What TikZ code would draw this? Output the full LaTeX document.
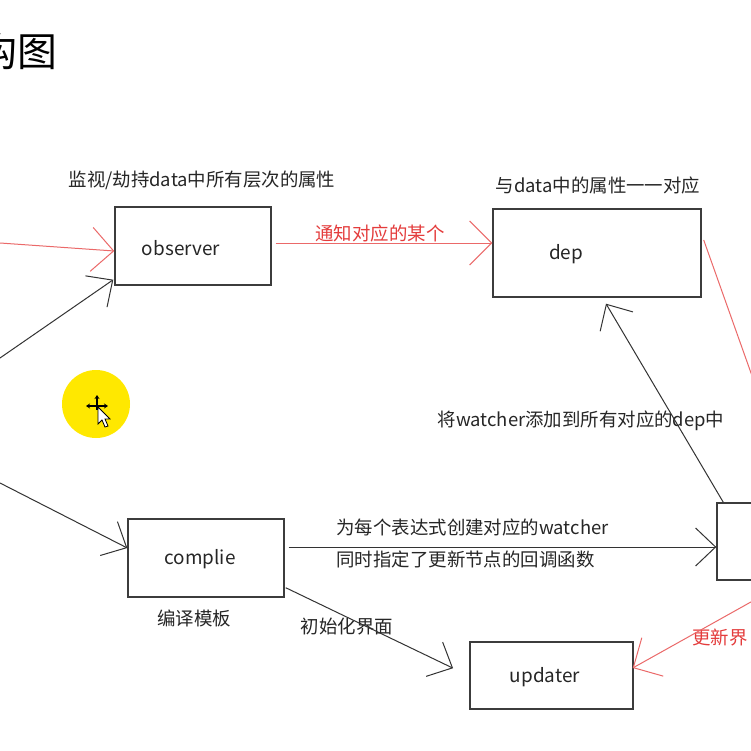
\documentclass[tikz,border=0pt]{standalone}
\usepackage{fontspec}
\setmainfont{Noto Sans CJK SC}
\usetikzlibrary{arrows.meta,calc}
\definecolor{boxgray}{RGB}{60,60,60}
\definecolor{linered}{RGB}{235,105,105}
\definecolor{textred}{RGB}{228,60,60}
\definecolor{hiyellow}{RGB}{255,232,0}
\begin{document}
\begin{tikzpicture}[x=1bp,y=-1bp,
	box/.style={draw=boxgray,line width=1.4bp,inner sep=0pt},
	boxtext/.style={font=\fontsize{19}{22}\selectfont,text=black!85},
	lbl/.style={font=\fontsize{18.5}{22}\selectfont,text=black!85},
	arr/.style={draw=black!80,line width=1bp,-{Straight Barb[length=20bp,width=38bp]}},
	redarr/.style={draw=linered,line width=1bp,-{Straight Barb[length=22bp,width=44bp]}}]
	\useasboundingbox (0,0) rectangle (751,751);
	\fill[white] (0,0) rectangle (751,751);

	\node[font=\fontsize{40}{44}\selectfont,anchor=east] (title) at (61,51) {构图};

	% boxes
	\node[box,minimum width=156bp,minimum height=78bp] (obs) at (193,246) {};
	\node[box,minimum width=208bp,minimum height=88bp] (dep) at (597,253) {};
	\node[box,minimum width=156bp,minimum height=78bp] (cmp) at (206,558) {};
	\node[box,minimum width=160bp,minimum height=77bp] (wat) at (797,541.5) {};
	\node[box,minimum width=163bp,minimum height=67bp] (upd) at (551.5,675.5) {};

	\node[boxtext] (obsname) at ($(obs)+(-12,2)$) {observer};
	\node[boxtext] (depname) at ($(dep)+(-31,1)$) {dep};
	\node[boxtext] (cmpname) at ($(cmp)+(-6,1)$) {complie};
	\node[boxtext] (updname) at ($(upd)+(-6.5,1.5)$) {updater};

	% labels
	\node[lbl] (obslbl) at (202,180) {监视/劫持data中所有层次的属性};
	\node[lbl] (deplbl) at (598,185) {与data中的属性一一对应};
	\node[lbl,text=textred] (notify) at (380,233) {通知对应的某个};
	\node[lbl] (addlbl) at (581,421) {将watcher添加到所有对应的dep中};
	\node[lbl,anchor=west] (watlbl1) at (333,527) {为每个表达式创建对应的watcher};
	\node[lbl,anchor=west] (watlbl2) at (333,559) {同时指定了更新节点的回调函数};
	\node[lbl] (cmplbl) at (194,618) {编译模板};
	\node[lbl] (initlbl) at (347,627) {初始化界面};
	\node[lbl,text=textred,anchor=east] (updlbl) at (751,638) {更新界};

	% connectors
	\coordinate (inred) at (0,243);
	\coordinate (inobs) at (0,358);
	\coordinate (incmp) at (0,483);
	\coordinate (cmpout) at ($(cmp.east)+(4,-11)$);
	\draw[redarr] (inred) -- ($(obs.west)+(0,5)$);
	\draw[arr] (inobs) -- ($(obs.south west)+(-1,-6)$);
	\draw[arr] (incmp) -- ($(cmp.west)+(0,-10)$);
	\draw[redarr] ($(obs.east)+(4,-3)$) -- ($(dep.west)+(0,-10)$);
	\draw[redarr] ($(dep.east)+(2,-13)$) -- (wat.north);
	\draw[arr] (cmpout) -- (wat.west |- cmpout);
	\draw[arr] ($(wat.north west)+(7,0)$) -- ($(dep.south)+(9,6)$);
	\draw[arr,shorten >=18bp] ($(cmp.south east)+(1,-10)$) -- ($(upd.west)+(0,0.5)$);
	\draw[redarr] ($(wat.south)+(-8,0)$) -- ($(upd.east)+(-1,-7.5)$);

	% cursor highlight
	\fill[hiyellow] (96,404) circle[radius=34];
	\draw[line width=1.2bp,{Stealth[length=4bp,width=5bp]}-{Stealth[length=4bp,width=5bp]}] (86,406) -- (108,406);
	\draw[line width=1.2bp,-{Stealth[length=4bp,width=5bp]}] (97,410) -- (97,395);
	\draw[fill=white,line width=0.8bp] (98,407) -- (98,424) -- (102,420) -- (105,427) -- (108,426) -- (105,419) -- (110,419) -- cycle;
\end{tikzpicture}
\end{document}
